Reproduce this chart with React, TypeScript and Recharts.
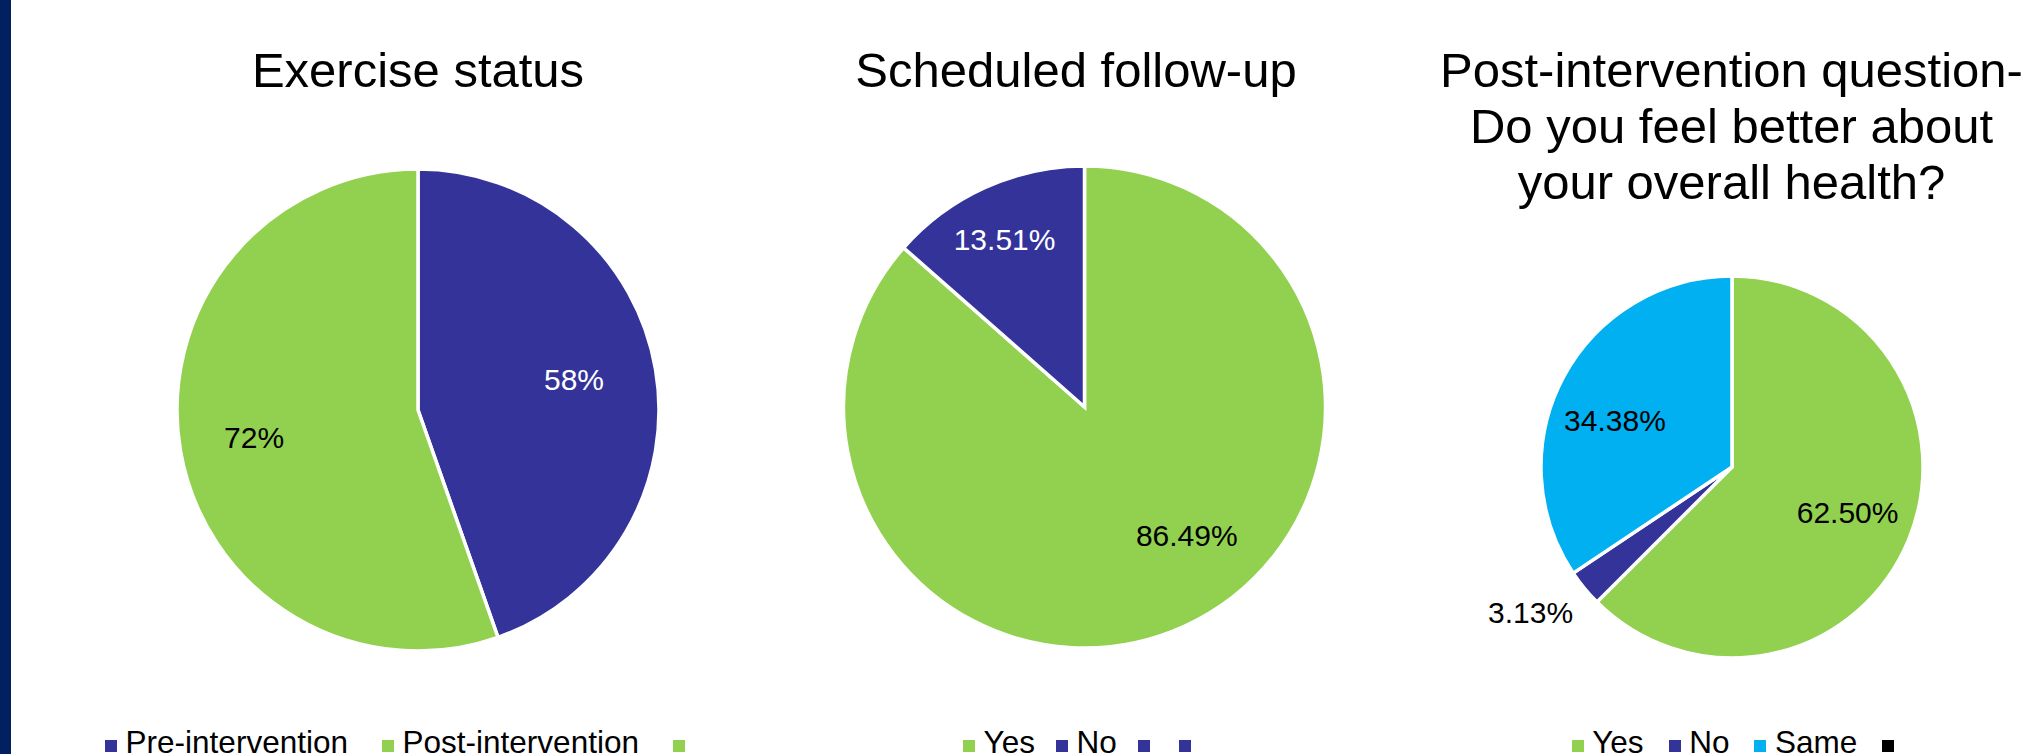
import React from 'react';
import { PieChart, Pie, Cell, Legend } from 'recharts';

const FONT = '"Liberation Sans", Arial, Helvetica, sans-serif';
const BLUE = '#333399';
const GREEN = '#92D050';
const CYAN = '#00B0F0';
const BLACK = '#000000';
const NAVY = '#002060';
const RAD = Math.PI / 180;

// Exercise status
const exerciseCategories = ['Pre-intervention', 'Post-intervention', ''];
const exerciseValues = [58, 72, 0];
const exerciseColors = [BLUE, GREEN, GREEN];

// Scheduled follow-up
const followUpCategories = ['Yes', 'No', '', ''];
const followUpValues = [86.49, 13.51, 0, 0];
const followUpColors = [GREEN, BLUE, BLUE, BLUE];

// Post-intervention question
const healthCategories = ['Yes', 'No', 'Same', ''];
const healthValues = [62.5, 3.13, 34.38, 0];
const healthColors = [GREEN, BLUE, CYAN, BLACK];

type LabelPlace = { r: number; shift: number; fill: string };

interface PanelProps {
  left: number;
  width: number;
  title: string[];
  titleX: number;
  cx: number;
  cy: number;
  radius: number;
  categories: string[];
  values: number[];
  colors: string[];
  format: (v: number) => string;
  places: LabelPlace[];
  legendX: number;
  legendGap: number;
}

const PiePanel: React.FC<PanelProps> = (p) => {
  const rows = p.categories.map((name, i) => ({ name, value: p.values[i], color: p.colors[i] }));
  // only non-empty rows become slices; the legend keeps every row
  const slices = rows.filter((r) => r.value > 0);

  const renderLabel = (props: any) => {
    const { cx, cy, midAngle, outerRadius, index, value } = props;
    const place = p.places[index];
    if (!place) return null;
    const a = -(midAngle + place.shift) * RAD;
    const x = cx + outerRadius * place.r * Math.cos(a);
    const y = cy + outerRadius * place.r * Math.sin(a);
    return (
      <text
        x={x}
        y={y}
        fill={place.fill}
        textAnchor="middle"
        dominantBaseline="central"
        fontSize={30}
        fontFamily={FONT}
      >
        {p.format(value)}
      </text>
    );
  };

  const renderLegend = () => (
    <div style={{ display: 'flex', fontFamily: FONT, fontSize: 31.5, lineHeight: '31px', color: '#000', whiteSpace: 'nowrap' }}>
      {rows.map((r, i) => (
        <div key={i} style={{ display: 'flex', alignItems: 'center', marginRight: p.legendGap }}>
          <span style={{ width: 12, height: 12, background: r.color, marginRight: 8.6, position: 'relative', top: 3 }} />
          <span>{r.name}</span>
        </div>
      ))}
    </div>
  );

  return (
    <div style={{ position: 'absolute', left: p.left, top: 0, width: p.width, height: 754 }}>
      <PieChart width={p.width} height={754} margin={{ top: 0, right: 0, bottom: 0, left: 0 }}>
        <Pie
          data={slices}
          dataKey="value"
          nameKey="name"
          cx={p.cx}
          cy={p.cy}
          outerRadius={p.radius}
          startAngle={90}
          endAngle={-270}
          stroke="#ffffff"
          strokeWidth={3.5}
          labelLine={false}
          label={renderLabel}
          isAnimationActive={false}
        >
          {slices.map((s, i) => (
            <Cell key={`cell-${i}`} fill={s.color} />
          ))}
        </Pie>
        <Legend
          content={renderLegend}
          wrapperStyle={{ left: p.legendX, top: 727, width: 'auto', bottom: 'auto' }}
        />
      </PieChart>
      <div
        style={{
          position: 'absolute',
          left: p.titleX - 400,
          top: 41.5,
          width: 800,
          textAlign: 'center',
          fontFamily: FONT,
          fontSize: 49,
          lineHeight: '56px',
          color: '#000',
          whiteSpace: 'nowrap',
          pointerEvents: 'none',
        }}
      >
        {p.title.map((line, i) => (
          <div key={i}>{line}</div>
        ))}
      </div>
    </div>
  );
};

const pct0 = (v: number) => `${v}%`;
const pct2 = (v: number) => `${v.toFixed(2)}%`;

export default function App() {
  return (
    <div style={{ position: 'absolute', left: 0, top: 0, width: 2021, height: 754, background: '#fff', overflow: 'hidden' }}>
      <div style={{ position: 'absolute', left: 0, top: 0, width: 11, height: 754, background: NAVY }} />
      <PiePanel
        left={11}
        width={689}
        title={['Exercise status']}
        titleX={407}
        cx={407}
        cy={410}
        radius={241}
        categories={exerciseCategories}
        values={exerciseValues}
        colors={exerciseColors}
        format={pct0}
        places={[
          { r: 0.66, shift: 1.5, fill: '#ffffff' },
          { r: 0.69, shift: 0, fill: '#000000' },
        ]}
        legendX={94}
        legendGap={34}
      />
      <PiePanel
        left={700}
        width={700}
        title={['Scheduled follow-up']}
        titleX={376}
        cx={384.5}
        cy={407}
        radius={241}
        categories={followUpCategories}
        values={followUpValues}
        colors={followUpColors}
        format={pct2}
        places={[
          { r: 0.68, shift: 14.3, fill: '#000000' },
          { r: 0.77, shift: 1.2, fill: '#ffffff' },
        ]}
        legendX={263}
        legendGap={21}
      />
      <PiePanel
        left={1400}
        width={621}
        title={['Post-intervention question-', 'Do you feel better about', 'your overall health?']}
        titleX={331.5}
        cx={332}
        cy={467}
        radius={191}
        categories={healthCategories}
        values={healthValues}
        colors={healthColors}
        format={pct2}
        places={[
          { r: 0.65, shift: 1.1, fill: '#000000' },
          { r: 1.3, shift: -3.6, fill: '#000000' },
          { r: 0.66, shift: 6.3, fill: '#000000' },
        ]}
        legendX={171.6}
        legendGap={25}
      />
    </div>
  );
}
